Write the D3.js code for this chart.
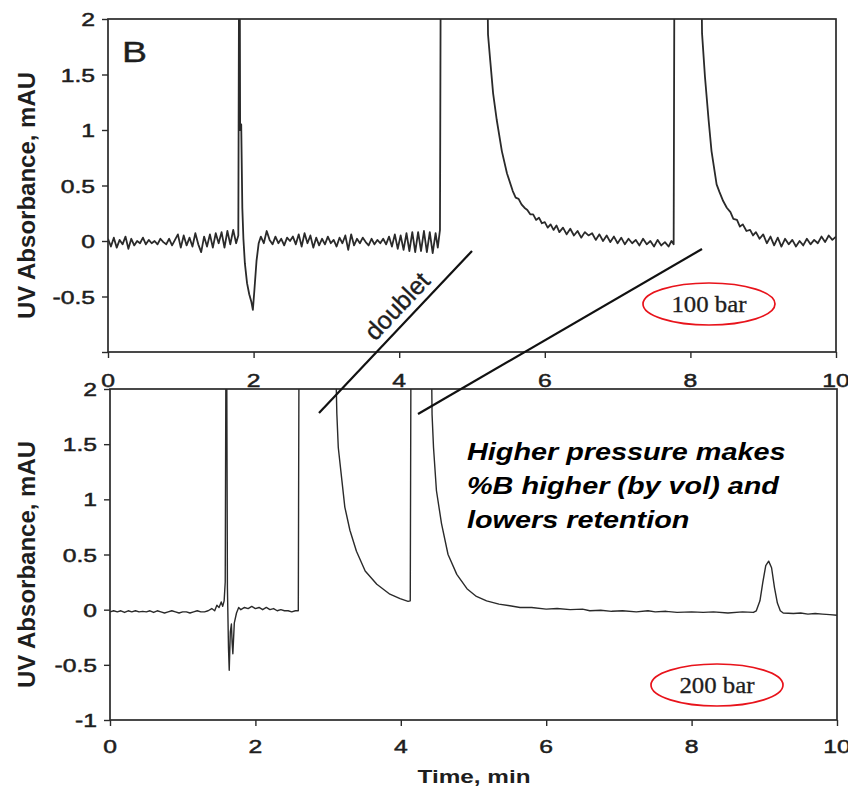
<!DOCTYPE html>
<html>
<head>
<meta charset="utf-8">
<script src="https://cdn.jsdelivr.net/npm/d3@7"></script>
<style>
  body { margin: 0; background: #fff; }
</style>
</head>
<body>
<div id="chart"></div>
<script>
// Axis ticks
const timeTicks = [0, 2, 4, 6, 8, 10];
const absTicks = [-1, -0.5, 0, 0.5, 1, 1.5, 2];

// Chromatogram at 100 bar: [time (min), absorbance (mAU)], off-scale parts written as 2.4
const trace100bar = [
  [0.00, 0.02], [0.04, -0.05], [0.08, 0.03], [0.12, -0.06], [0.16, 0.01], [0.20, -0.03],
  [0.24, 0.04], [0.28, -0.07], [0.32, 0.02], [0.36, -0.04], [0.40, 0.00], [0.44, -0.02],
  [0.48, 0.03], [0.52, -0.03], [0.56, 0.01], [0.60, -0.02], [0.64, 0.00], [0.68, -0.03],
  [0.72, 0.02], [0.76, -0.01], [0.80, -0.03], [0.84, 0.02], [0.88, -0.04], [0.92, 0.01],
  [0.96, 0.06], [1.00, -0.06], [1.04, 0.05], [1.08, -0.04], [1.12, 0.03], [1.16, -0.05],
  [1.20, 0.07], [1.24, -0.03], [1.28, -0.10], [1.32, 0.04], [1.36, -0.05], [1.40, 0.06],
  [1.44, -0.06], [1.48, 0.07], [1.52, -0.02], [1.56, 0.08], [1.60, -0.06], [1.64, 0.09],
  [1.68, -0.03], [1.72, 0.10], [1.76, -0.02], [1.79, 0.05],
  [1.80, 2.4], [1.81, 2.4], [1.815, 1.0], [1.83, 1.05], [1.845, 0.3], [1.86, 0.02],
  [1.88, -0.2], [1.91, -0.38], [1.94, -0.48], [1.97, -0.55], [1.99, -0.62], [2.01, -0.45],
  [2.04, -0.18], [2.07, -0.02], [2.10, 0.04], [2.14, -0.02], [2.18, 0.09], [2.22, 0.01],
  [2.26, -0.03], [2.30, 0.04], [2.34, -0.02], [2.38, 0.02], [2.42, -0.04], [2.46, 0.03],
  [2.50, 0.00], [2.54, 0.04], [2.58, -0.03], [2.62, 0.06], [2.66, -0.05], [2.70, 0.07],
  [2.74, -0.02], [2.78, 0.05], [2.82, -0.06], [2.86, 0.03], [2.90, -0.04], [2.94, 0.02],
  [2.98, -0.03], [3.02, 0.04], [3.06, -0.02], [3.10, 0.01], [3.14, -0.05], [3.18, 0.03],
  [3.22, -0.02], [3.26, 0.05], [3.30, -0.08], [3.34, 0.06], [3.38, -0.04], [3.42, 0.02],
  [3.46, -0.02], [3.50, 0.03], [3.54, -0.01], [3.58, -0.04], [3.62, 0.02], [3.66, -0.03],
  [3.70, 0.01], [3.74, -0.02], [3.78, 0.02], [3.82, -0.03], [3.86, 0.04], [3.90, -0.05],
  [3.94, 0.06], [3.98, -0.07], [4.02, 0.05], [4.06, -0.08], [4.10, 0.07], [4.14, -0.09],
  [4.18, 0.08], [4.22, -0.10], [4.26, 0.08], [4.30, -0.09], [4.34, 0.09], [4.38, -0.10],
  [4.42, 0.08], [4.46, -0.11], [4.50, 0.07], [4.53, -0.06], [4.56, 0.10],
  [4.57, 2.4], [5.21, 2.4],
  [5.22, 1.86], [5.25, 1.63], [5.29, 1.33], [5.34, 1.09], [5.41, 0.81], [5.48, 0.61],
  [5.56, 0.45], [5.60, 0.39], [5.64, 0.38], [5.68, 0.33], [5.72, 0.30], [5.76, 0.28],
  [5.80, 0.24], [5.84, 0.24], [5.88, 0.19], [5.92, 0.21], [5.96, 0.16], [6.00, 0.17],
  [6.04, 0.12], [6.08, 0.15], [6.12, 0.10], [6.16, 0.14], [6.20, 0.08], [6.25, 0.12],
  [6.30, 0.06], [6.35, 0.11], [6.40, 0.05], [6.45, 0.09], [6.50, 0.03], [6.55, 0.08],
  [6.60, 0.05], [6.65, 0.07], [6.70, 0.01], [6.75, 0.06], [6.80, 0.00], [6.85, 0.05],
  [6.90, -0.01], [6.95, 0.04], [7.00, -0.02], [7.05, 0.03], [7.10, -0.03], [7.15, 0.02],
  [7.20, -0.02], [7.25, 0.01], [7.30, -0.04], [7.35, 0.02], [7.40, -0.03], [7.45, 0.00],
  [7.50, -0.05], [7.55, 0.01], [7.60, -0.04], [7.65, -0.01], [7.70, -0.05], [7.74, 0.00],
  [7.77, -0.03],
  [7.78, 2.4], [8.15, 2.4],
  [8.16, 1.87], [8.20, 1.48], [8.25, 1.09], [8.29, 0.81], [8.36, 0.51], [8.40, 0.44],
  [8.45, 0.36], [8.50, 0.30], [8.55, 0.26], [8.59, 0.20], [8.64, 0.19], [8.68, 0.13],
  [8.72, 0.15], [8.77, 0.09], [8.82, 0.10], [8.86, 0.05], [8.90, 0.08], [8.95, 0.02],
  [9.00, 0.06], [9.05, -0.02], [9.10, 0.04], [9.15, -0.04], [9.20, 0.03], [9.25, -0.05],
  [9.30, 0.02], [9.35, -0.03], [9.40, 0.01], [9.45, -0.05], [9.50, 0.00], [9.55, -0.04],
  [9.60, 0.02], [9.65, -0.03], [9.70, 0.01], [9.75, -0.02], [9.80, 0.04], [9.85, -0.01],
  [9.90, 0.05], [9.95, 0.01], [10.0, 0.04]
];

// Chromatogram at 200 bar
const trace200bar = [
  [0.00, -0.02], [0.05, -0.01], [0.10, -0.02], [0.15, -0.01], [0.20, -0.025], [0.25, -0.01],
  [0.30, -0.02], [0.35, -0.01], [0.40, -0.02], [0.45, -0.015], [0.50, -0.02], [0.55, -0.01],
  [0.60, -0.025], [0.65, -0.01], [0.70, -0.02], [0.75, -0.03], [0.80, -0.02], [0.85, -0.01],
  [0.90, -0.02], [0.95, -0.03], [1.00, -0.02], [1.05, -0.02], [1.10, -0.03], [1.15, -0.02],
  [1.20, -0.01], [1.25, -0.02], [1.30, -0.02], [1.35, -0.01], [1.40, 0.01], [1.44, -0.01],
  [1.47, 0.04], [1.50, 0.02], [1.53, 0.07], [1.55, 0.03], [1.57, 0.08], [1.585, 0.25],
  [1.595, 2.4], [1.605, 2.4], [1.615, 0.2], [1.63, -0.35], [1.64, -0.55], [1.655, -0.2],
  [1.67, -0.13], [1.68, -0.3], [1.69, -0.4], [1.71, -0.12], [1.74, -0.03], [1.77, 0.02],
  [1.80, 0.00], [1.85, 0.02], [1.90, 0.01], [1.95, 0.03], [2.00, 0.01], [2.05, 0.02],
  [2.10, 0.00], [2.15, 0.02], [2.20, 0.00], [2.25, 0.01], [2.30, -0.01], [2.35, 0.00],
  [2.40, -0.01], [2.45, -0.01], [2.50, -0.02], [2.55, -0.01], [2.59, -0.01],
  [2.60, 2.4], [3.10, 2.4],
  [3.12, 1.78], [3.14, 1.47], [3.19, 1.17], [3.23, 0.93], [3.30, 0.72], [3.39, 0.53],
  [3.51, 0.35], [3.67, 0.23], [3.85, 0.14], [3.99, 0.10], [4.10, 0.075], [4.13, 0.08],
  [4.14, 2.4], [4.42, 2.4],
  [4.43, 1.77], [4.45, 1.47], [4.49, 1.08], [4.56, 0.78], [4.65, 0.50], [4.77, 0.32],
  [4.91, 0.19], [5.04, 0.12], [5.18, 0.08], [5.35, 0.05], [5.50, 0.035], [5.64, 0.02],
  [5.80, 0.02], [6.00, 0.005], [6.15, 0.01], [6.33, 0.00], [6.50, 0.005], [6.60, -0.01],
  [6.75, -0.005], [6.90, -0.015], [7.05, -0.01], [7.24, -0.02], [7.40, -0.01], [7.50, -0.02],
  [7.65, -0.015], [7.80, -0.025], [8.00, -0.02], [8.16, -0.025], [8.30, -0.02], [8.50, -0.03],
  [8.70, -0.02], [8.85, -0.025], [8.89, -0.01], [8.94, 0.08], [8.98, 0.25], [9.02, 0.40],
  [9.06, 0.44], [9.10, 0.38], [9.14, 0.20], [9.18, 0.06], [9.22, -0.01], [9.26, -0.03],
  [9.40, -0.035], [9.50, -0.03], [9.60, -0.04], [9.70, -0.035], [9.80, -0.04], [9.90, -0.045],
  [10.0, -0.05]
];

const panels = [
  {id: 'p100', data: trace100bar, left: 108, right: 836, top: 19, bottom: 352,
   labelY: 387, minLabel: false, lineWidth: 1.8, tag: '100 bar', tagX: 709, tagY: 304},
  {id: 'p200', data: trace200bar, left: 110, right: 837, top: 389, bottom: 720,
   labelY: 753, minLabel: true, lineWidth: 1.4, tag: '200 bar', tagX: 717, tagY: 685}
];

const ink = '#1e1e1e';

const svg = d3.select('#chart').append('svg')
    .attr('width', 848)
    .attr('height', 789)
    .attr('font-family', '"Liberation Sans", Arial, sans-serif');

svg.append('rect').attr('width', 848).attr('height', 789).attr('fill', '#fff');

// text is a bit wider in the scanned figure, so stretch it horizontally
function stretchText(g, x, y, str, sx) {
    return g.append('text')
        .attr('transform', `translate(${x},${y}) scale(${sx},1)`)
        .text(str);
}

function drawPanel(cfg) {
    const x = d3.scaleLinear().domain([0, 10]).range([cfg.left, cfg.right]);
    const y = d3.scaleLinear().domain([-1, 2]).range([cfg.bottom, cfg.top]);
    const g = svg.append('g');

    g.append('clipPath')
        .attr('id', 'clip-' + cfg.id)
        .append('rect')
        .attr('x', cfg.left)
        .attr('y', cfg.top)
        .attr('width', cfg.right - cfg.left)
        .attr('height', cfg.bottom - cfg.top);

    // The trace
    g.append('path')
        .datum(cfg.data)
        .attr('clip-path', `url(#clip-${cfg.id})`)
        .attr('d', d3.line().x(d => x(d[0])).y(d => y(d[1])))
        .attr('fill', 'none')
        .attr('stroke', '#2a2a2a')
        .attr('stroke-width', cfg.lineWidth)
        .attr('stroke-linejoin', 'round');

    // Frame
    g.append('rect')
        .attr('x', cfg.left)
        .attr('y', cfg.top)
        .attr('width', cfg.right - cfg.left)
        .attr('height', cfg.bottom - cfg.top)
        .attr('fill', 'none')
        .attr('stroke', '#2a2a2a')
        .attr('stroke-width', 1.7);

    // Tick marks
    const xAxis = g.append('g')
        .attr('transform', `translate(0,${cfg.bottom})`)
        .call(d3.axisBottom(x).tickValues(timeTicks).tickSize(6).tickFormat(''));
    const yAxis = g.append('g')
        .attr('transform', `translate(${cfg.left},0)`)
        .call(d3.axisLeft(y).tickValues(absTicks).tickSize(6).tickFormat(''));
    [xAxis, yAxis].forEach(a => {
        a.select('.domain').remove();
        a.selectAll('line').attr('stroke', '#2a2a2a').attr('stroke-width', 1.4);
    });

    // Tick labels
    const labels = g.append('g')
        .attr('font-size', 19)
        .attr('fill', ink)
        .attr('stroke', ink)
        .attr('stroke-width', 0.5);
    timeTicks.forEach(t => {
        stretchText(labels, x(t), cfg.labelY, t, 1.3).attr('text-anchor', 'middle');
    });
    absTicks.filter(v => cfg.minLabel || v > -1).forEach(v => {
        stretchText(labels, cfg.left - 13, y(v) + 7, v, 1.3).attr('text-anchor', 'end');
    });

    // Y title
    g.append('text')
        .attr('transform', `translate(35,${(cfg.top + cfg.bottom) / 2 + 10}) rotate(-90)`)
        .attr('text-anchor', 'middle')
        .attr('font-size', 24)
        .attr('font-weight', 'bold')
        .attr('fill', ink)
        .text('UV Absorbance, mAU');

    // Pressure tag in a red ellipse
    g.append('ellipse')
        .attr('cx', cfg.tagX)
        .attr('cy', cfg.tagY)
        .attr('rx', 66)
        .attr('ry', 21)
        .attr('fill', 'none')
        .attr('stroke', '#e8131b')
        .attr('stroke-width', 1.7);
    stretchText(g, cfg.tagX, cfg.tagY + 8, cfg.tag, 1.08)
        .attr('text-anchor', 'middle')
        .attr('font-family', '"Liberation Serif", "Times New Roman", serif')
        .attr('font-size', 23)
        .attr('fill', ink)
        .attr('stroke', ink)
        .attr('stroke-width', 0.3);
}

panels.forEach(drawPanel);

// Panel letter
stretchText(svg, 122, 62, 'B', 1.25)
    .attr('font-size', 30)
    .attr('fill', ink)
    .attr('stroke', ink)
    .attr('stroke-width', 0.4);

// X title
stretchText(svg, 474, 783, 'Time, min', 1.28)
    .attr('text-anchor', 'middle')
    .attr('font-size', 19)
    .attr('font-weight', 'bold')
    .attr('fill', ink);

// Doublet guide lines
const guides = [
    {x1: 472, y1: 251, x2: 319, y2: 413},
    {x1: 702, y1: 249, x2: 418, y2: 414}
];
svg.append('g').selectAll('line')
    .data(guides).enter()
    .append('line')
    .attr('x1', d => d.x1).attr('y1', d => d.y1)
    .attr('x2', d => d.x2).attr('y2', d => d.y2)
    .attr('stroke', '#111')
    .attr('stroke-width', 2.2);

svg.append('text')
    .attr('transform', 'translate(397,306) rotate(-46.6)')
    .attr('text-anchor', 'middle')
    .attr('dy', '0.35em')
    .attr('font-size', 25)
    .attr('fill', ink)
    .attr('stroke', ink)
    .attr('stroke-width', 0.4)
    .text('doublet');

// Annotation
const note = ['Higher pressure makes', '%B higher (by vol) and', 'lowers retention'];
const noteG = svg.append('g')
    .attr('font-size', 24)
    .attr('font-weight', 'bold')
    .attr('font-style', 'italic')
    .attr('fill', '#000');
note.forEach((line, i) => stretchText(noteG, 467, 460 + i * 34, line, 1.2));
</script>
</body>
</html>
